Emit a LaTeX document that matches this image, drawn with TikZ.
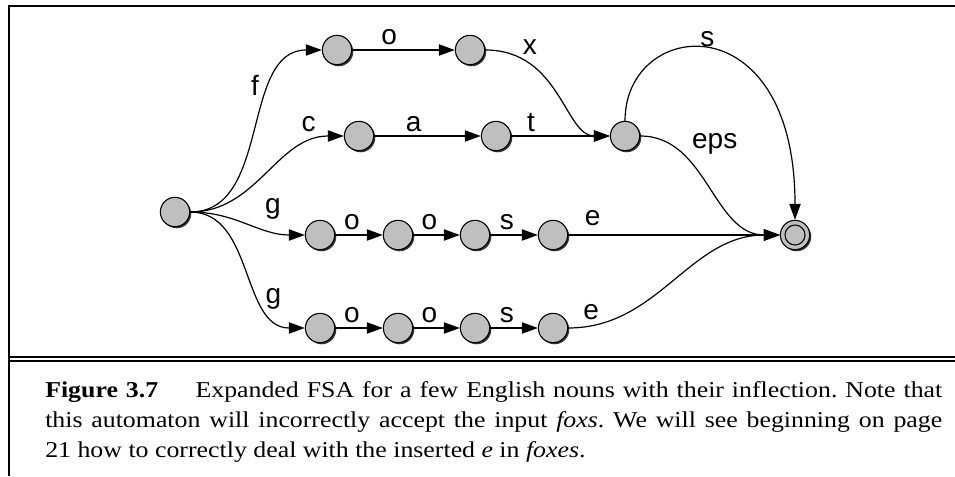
\documentclass[tikz,border=0pt]{standalone}
\usepackage{fontspec}
\setmainfont{Liberation Serif}[FakeStretch=1.14]
\newfontfamily\arialfont{Liberation Sans}
\usetikzlibrary{arrows.meta,shadows}

\begin{document}
\begin{tikzpicture}[x=0.75pt,y=0.75pt,
    state/.style={circle,draw,line width=0.8pt,fill=black!25,minimum size=22pt,inner sep=0pt,
      drop shadow={shadow xshift=1.2pt,shadow yshift=-1.2pt,opacity=1,fill=black!80}},
    accept/.style={path picture={\draw[line width=0.8pt] (path picture bounding box.center) circle (7.5pt);}},
    trans/.style={-{Triangle[length=12pt,width=8.5pt]},line width=0.9pt},
    lbl/.style={font=\arialfont\fontsize{21}{25}\selectfont,inner sep=0pt,text depth=0pt}]

\useasboundingbox (0,0) rectangle (955,476);

% frame
\draw[line width=1.5pt] (8.5,0) |- (955,469.5);
\draw[line width=1.5pt] (8.5,119.5) -- (955,119.5);
\draw[line width=1pt] (8.5,115) -- (955,115);

% states
\node[state] (q0) at (175,264) {};
\node[state] (f1) at (337,426) {};
\node[state] (f2) at (470,426) {};
\node[state] (c1) at (359,340) {};
\node[state] (c2) at (496,340) {};
\node[state] (m) at (625,340) {};
\node[state,accept] (F) at (795,241) {};
\node[state] (ga1) at (320,241) {};
\node[state] (ga2) at (398,241) {};
\node[state] (ga3) at (475,241) {};
\node[state] (ga4) at (553,241) {};
\node[state] (gb1) at (320,148) {};
\node[state] (gb2) at (398,148) {};
\node[state] (gb3) at (475,148) {};
\node[state] (gb4) at (553,148) {};

% fox / cat
\draw[trans] (q0.east) to[out=0,in=180] node[lbl,pos=.7,left=10pt] {f} (f1.west);
\draw[trans] (f1) -- node[lbl,pos=.36,above=4pt] {o} (f2);
\draw[trans] (f2.east) .. controls +(75,0) and +(-45,0) .. node[lbl,pos=.25,above=6.5pt] {x} (m.west);
\draw[trans] (q0.east) to[out=0,in=180] node[lbl,pos=.8,above=8.5pt] {c} (c1.west);
\draw[trans] (c1) -- node[lbl,pos=.37,above=2.6pt] {a} (c2);
\draw[trans] (c2) -- node[lbl,pos=.2,above=2.6pt] {t} (m);
\draw[trans] (m.north) .. controls +(0,103) and +(0,219) .. node[lbl,pos=.49,above=1.2pt] {s} (F.north);
\draw[trans] (m.east) to[out=0,in=180] node[lbl,pos=.25,anchor=south west,xshift=8pt,yshift=1.5pt] {eps} (F.west);

% goose
\draw[trans] (q0.east) to[out=0,in=180] node[lbl,pos=.74,above=13pt] {g} (ga1.west);
\draw[trans] (ga1) -- node[lbl,pos=.35,above=4pt] {o} (ga2);
\draw[trans] (ga2) -- node[lbl,pos=.35,above=4pt] {o} (ga3);
\draw[trans] (ga3) -- node[lbl,pos=.35,above=4pt] {s} (ga4);
\draw[trans] (ga4) -- node[lbl,pos=.115,above=7pt] {e} (F);

\draw[trans] (q0.east) to[out=0,in=180] node[lbl,pos=.79,above=8pt] {g} (gb1.west);
\draw[trans] (gb1) -- node[lbl,pos=.35,above=4pt] {o} (gb2);
\draw[trans] (gb2) -- node[lbl,pos=.35,above=4pt] {o} (gb3);
\draw[trans] (gb3) -- node[lbl,pos=.35,above=4pt] {s} (gb4);
\draw[trans] (gb4.east) to[out=0,in=180] node[lbl,pos=.09,above=4.4pt] {e} (F.west);

% caption
\node[anchor=base west,inner sep=0pt] (cap) at (45,79) {\parbox[t]{672.75pt}{\fontsize{17}{22.5}\selectfont\frenchspacing
  \textbf{Figure 3.7}\hspace{28pt}Expanded FSA for a few English nouns with their inflection. Note that\linebreak
  this automaton will incorrectly accept the input \textit{foxs}. We will see beginning on page\linebreak
  21 how to correctly deal with the inserted \textit{e} in \textit{foxes}.}};
\end{tikzpicture}
\end{document}
